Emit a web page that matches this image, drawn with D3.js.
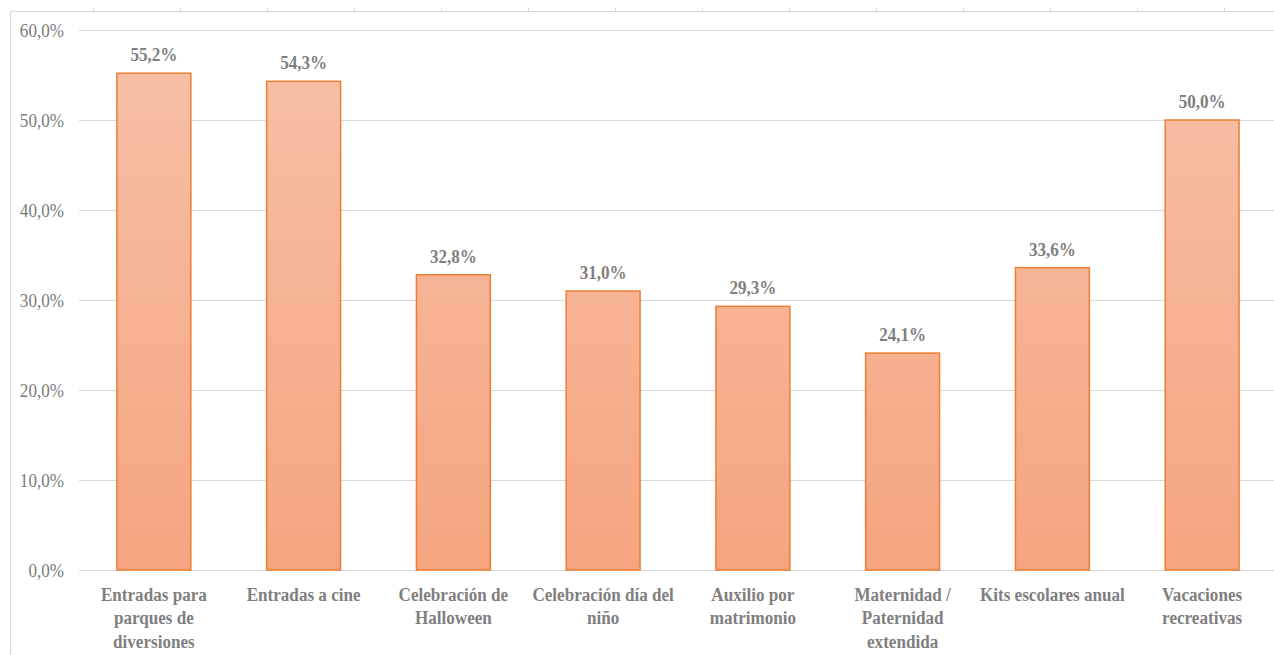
<!DOCTYPE html>
<html><head><meta charset="utf-8">
<script src="https://cdn.jsdelivr.net/npm/d3@7"></script>
<style>html,body{margin:0;padding:0;background:#fff;}svg{display:block;}text{font-family:"Liberation Serif","Times New Roman",serif;}</style>
</head><body><svg id="c" width="1274" height="655"></svg>
<script>
const categories = [
  ["Entradas para","parques de","diversiones"],
  ["Entradas a cine"],
  ["Celebración de","Halloween"],
  ["Celebración día del","niño"],
  ["Auxilio por","matrimonio"],
  ["Maternidad /","Paternidad","extendida"],
  ["Kits escolares anual"],
  ["Vacaciones","recreativas"]
];
const values = [55.2, 54.3, 32.8, 31.0, 29.3, 24.1, 33.6, 50.0];
const yTicks = [0, 10, 20, 30, 40, 50, 60];

const svg = d3.select("#c");
const fmt = v => v.toFixed(1).replace(".", ",") + "%";
const font = "Liberation Serif";
const sx = 0.9; // reference text is horizontally condensed

// outer frame
svg.append("line").attr("x1",10).attr("x2",1274).attr("y1",11.5).attr("y2",11.5).attr("stroke","#d9d9d9");
svg.append("line").attr("x1",10.5).attr("x2",10.5).attr("y1",11).attr("y2",655).attr("stroke","#d9d9d9");
d3.range(93, 1274, 87).forEach(x => {
  svg.append("line").attr("x1",x+0.5).attr("x2",x+0.5).attr("y1",8).attr("y2",11).attr("stroke","#d9d9d9");
});

const x = d3.scaleBand().domain(d3.range(categories.length)).range([79, 1277]).paddingInner(0.5).paddingOuter(0.25);
const y = d3.scaleLinear().domain([0, 60]).range([570, 30]);

const defs = svg.append("defs");
const g = defs.append("linearGradient").attr("id","bg")
  .attr("gradientUnits","userSpaceOnUse").attr("x1",0).attr("x2",0).attr("y1",y(60)).attr("y2",y(0));
g.append("stop").attr("offset","0%").attr("stop-color","#f7c1a9");
g.append("stop").attr("offset","100%").attr("stop-color","#f5a47f");

// gridlines
svg.append("g").selectAll("line").data(yTicks).join("line")
  .attr("x1",79).attr("x2",1274)
  .attr("y1",d=>Math.round(y(d))+0.5).attr("y2",d=>Math.round(y(d))+0.5)
  .attr("stroke","#d9d9d9").attr("stroke-width",1);

// y axis labels
const yAxis = d3.axisLeft(y).tickValues(yTicks).tickFormat(fmt).tickSize(0).tickPadding(0);
const ya = svg.append("g").attr("transform","translate(64,0)").call(yAxis);
ya.attr("font-family",null).attr("font-size",null);
ya.select(".domain").remove();
ya.selectAll("text").style("font-family",font).style("font-size","19px").attr("fill","#7a7a7a")
  .attr("transform",`scale(${sx},1)`);

// bars
svg.append("g").selectAll("rect").data(values).join("rect")
  .attr("x",(d,i)=>x(i)+0.5).attr("width",x.bandwidth()-1)
  .attr("y",d=>y(d)).attr("height",d=>y(0)-y(d))
  .attr("fill","url(#bg)").attr("stroke","#ed7d31").attr("stroke-width",1.5);

// value labels
svg.append("g").selectAll("g").data(values).join("g")
  .attr("transform",(d,i)=>`translate(${x(i)+x.bandwidth()/2},${y(d)-12}) scale(${sx},1)`)
  .append("text").attr("text-anchor","middle").style("font-family",font).style("font-weight","bold")
  .style("font-size","19px").attr("fill","#7f7f7f").text(fmt);

// x category labels
const xl = svg.append("g");
categories.forEach((lines,i)=>{
  const t = xl.append("g").attr("transform",`translate(${x(i)+x.bandwidth()/2},0) scale(${sx},1)`)
    .append("text").attr("text-anchor","middle").style("font-family",font)
    .style("font-weight","bold").style("font-size","19px").attr("fill","#7f7f7f");
  lines.forEach((ln,j)=>{
    t.append("tspan").attr("x",0).attr("y",601+j*23.5).text(ln);
  });
});
</script></body></html>
